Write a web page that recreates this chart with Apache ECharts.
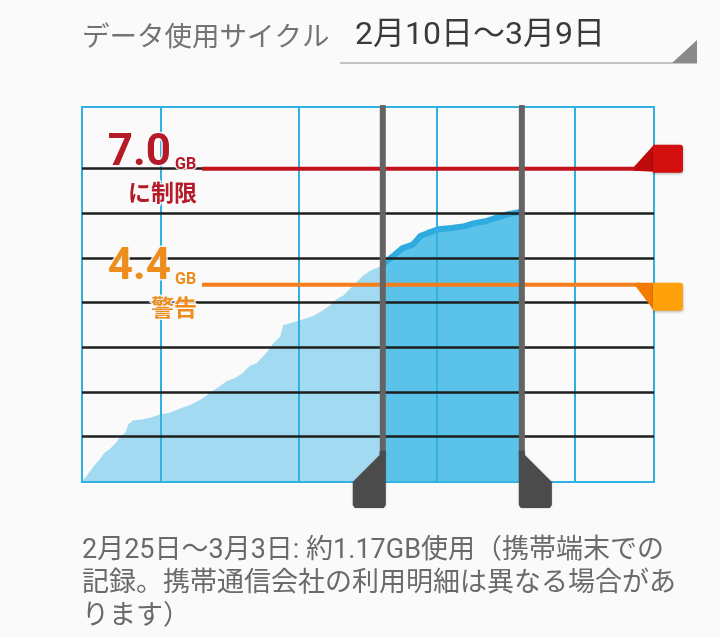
<!DOCTYPE html>
<html><head><meta charset="utf-8">
<script src="https://cdn.jsdelivr.net/npm/echarts@6/dist/echarts.min.js"></script>
<style>html,body{margin:0;padding:0;background:#fafafa;}#c{width:720px;height:637px;}</style>
</head><body><div id="c"></div>
<script>
// ---- data (days since 2月10日 00:00, cumulative GB) ----
const usageDays = [0, 0.2, 0.55, 0.9, 1.15, 1.4, 1.75, 1.95, 2.2, 2.35,
  2.6, 3.05, 3.45, 3.95, 4.45, 4.95, 5.5, 6.0, 6.5, 7.0,
  7.35, 7.75, 8.15, 8.5, 8.85, 9.2, 9.45, 9.7, 10.05, 10.2,
  10.3, 10.9, 11.7, 12.2, 12.55, 12.95, 13.25, 13.75, 14.25, 14.6,
  15.1, 15.25, 15.45, 15.85, 16.25, 16.75, 16.95, 17.15, 17.55, 18.05,
  18.75, 19.4, 19.9, 20.45, 20.95, 21.6, 22.1, 22.3];
const usageGB = [0, 0.09, 0.31, 0.49, 0.64, 0.71, 0.87, 1.0, 1.09, 1.27,
  1.36, 1.38, 1.42, 1.49, 1.53, 1.62, 1.71, 1.82, 1.98, 2.13,
  2.24, 2.31, 2.42, 2.58, 2.64, 2.8, 2.93, 3.09, 3.24, 3.49,
  3.53, 3.58, 3.69, 3.82, 3.93, 4.09, 4.16, 4.38, 4.6, 4.71,
  4.8, 4.86, 4.93, 5.07, 5.22, 5.29, 5.38, 5.49, 5.56, 5.64,
  5.67, 5.71, 5.78, 5.82, 5.89, 5.98, 6.02, 6.04];
const cycleDays = 29;
const weekLineDays = [4, 11, 18, 25];
const gbLines = [1, 2, 3, 4, 5, 6, 7];
const limitGB = 7.0;
const warningGB = 4.4;
const rangeStartDay = 15.25;
const rangeEndDay = 22.3;
const headerLabel = 'データ使用サイクル';
const cycleLabel = '2月10日～3月9日';
const limitLabels = ['7.0', 'GB', 'に制限'];
const warningLabels = ['4.4', 'GB', '警告'];
const summaryLines = ['2月25日～3月3日: 約1.17GB使用（携帯端末での',
  '記録。携帯通信会社の利用明細は異なる場合があ', 'ります）'];

// ---- chart ----
const FONT = "Roboto, 'Noto Sans CJK JP', sans-serif";
const CJK = "'Noto Sans CJK JP', Roboto, sans-serif";
const chart = echarts.init(document.getElementById('c'), null, {renderer: 'canvas'});
const pts = usageDays.map((d, i) => [d, usageGB[i]]);
const lightPts = pts.filter(p => p[0] <= rangeStartDay);
const darkPts = pts.filter(p => p[0] >= rangeStartDay && p[0] <= rangeEndDay);

chart.setOption({
  backgroundColor: '#fafafa',
  animation: false,
  grid: {left: 82, right: 66, top: 107, bottom: 155, show: true,
    borderColor: '#2fb1e2', borderWidth: 2, backgroundColor: 'transparent'},
  xAxis: {type: 'value', min: 0, max: cycleDays, show: false},
  yAxis: {type: 'value', min: -0.022, max: 8.382, show: false},
  series: [
    {type: 'line', data: [], z: 1, silent: true,
      markLine: {silent: true, symbol: ['none', 'none'], animation: false,
        label: {show: false},
        emphasis: {disabled: true},
        data: [
          ...weekLineDays.map(d => ({xAxis: d, lineStyle: {color: '#2fb1e2', width: 2, type: 'solid'}})),
          ...gbLines.map(v => ({yAxis: v, lineStyle: {color: '#1e1e1e', width: 2.5, type: 'solid'}}))
        ]}},
    {type: 'line', data: lightPts, z: 2, symbol: 'none', silent: true,
      lineStyle: {width: 0},
      areaStyle: {color: 'rgba(51,181,229,0.44)', opacity: 1, origin: 'start'}},
    {type: 'line', data: darkPts, z: 3, symbol: 'none', silent: true,
      lineStyle: {width: 6, color: '#2eabe0'},
      areaStyle: {color: 'rgba(51,181,229,0.8)', opacity: 1, origin: 'start'}}
  ]
});

function px(x, y) { return chart.convertToPixel({gridIndex: 0}, [x, y]); }
function txt(text, x, y, font, fill, align, extra) {
  return {type: 'text', z: 50, silent: true, style: Object.assign({
    text: text, x: x, y: y, font: font, fill: fill,
    align: align, textAlign: align, verticalAlign: 'middle', textVerticalAlign: 'middle'
  }, extra || {})};
}
const g = [];
// header
g.push(txt(headerLabel, 82, 36, '27.5px ' + CJK, '#737373', 'left'));
g.push(txt(cycleLabel, 355, 36, '32px ' + FONT, '#3a3a3a', 'left'));
g.push({type: 'line', z: 50, shape: {x1: 340, y1: 63, x2: 697, y2: 63}, style: {stroke: '#c4c4c4', lineWidth: 2}});
g.push({type: 'polygon', z: 50, shape: {points: [[672, 63], [697, 63], [697, 40]]}, style: {fill: '#8a8a8a'}});

// limit and warning lines
const yL = px(0, limitGB)[1];
const yW = px(0, warningGB)[1];
g.push({type: 'line', z: 60, shape: {x1: 202, y1: yL, x2: 640, y2: yL}, style: {stroke: '#c2141c', lineWidth: 4}});
g.push({type: 'polygon', z: 61, shape: {points: [[634, yL + 2], [634, yL - 2], [654, yL - 24], [654, yL + 3]]}, style: {fill: '#c00b0d'}});
g.push({type: 'rect', z: 61, shape: {x: 653, y: yL - 24, width: 30, height: 28, r: [0, 3, 3, 0]}, style: {fill: '#d40f0f', shadowBlur: 3, shadowColor: 'rgba(0,0,0,0.3)', shadowOffsetY: 1}});
g.push({type: 'line', z: 60, shape: {x1: 202, y1: yW, x2: 640, y2: yW}, style: {stroke: '#f47d1c', lineWidth: 4}});
g.push({type: 'polygon', z: 61, shape: {points: [[636, yW - 2], [654, yW - 2], [654, yW + 26], [636, yW + 2]]}, style: {fill: '#f47b00'}});
g.push({type: 'rect', z: 61, shape: {x: 653, y: yW - 2, width: 30, height: 28, r: [0, 3, 3, 0]}, style: {fill: '#ffa10a', shadowBlur: 3, shadowColor: 'rgba(0,0,0,0.3)', shadowOffsetY: 1}});

const redT = '#b51a28', orT = '#ee8c1c';
const halo = {stroke: 'rgba(250,250,250,0.85)', lineWidth: 3};
g.push(txt(limitLabels[0], 171, yL - 15, 'bold 44px ' + FONT, redT, 'right', halo));
g.push(txt(limitLabels[1], 175, yL - 4, 'bold 16px ' + FONT, redT, 'left', halo));
g.push(txt(limitLabels[2], 197, yL + 24, 'bold 23px ' + CJK, redT, 'right', halo));
g.push(txt(warningLabels[0], 171, yW - 17, 'bold 44px ' + FONT, orT, 'right', halo));
g.push(txt(warningLabels[1], 175, yW - 5, 'bold 16px ' + FONT, orT, 'left', halo));
g.push(txt(warningLabels[2], 197, yW + 23, 'bold 23px ' + CJK, orT, 'right', halo));

// range sliders
const xs = px(rangeStartDay, 0)[0];
const xe = px(rangeEndDay, 0)[0];
[[xs, -1], [xe, 1]].forEach(([cx, dir]) => {
  g.push({type: 'rect', z: 70, shape: {x: cx - 3, y: 105, width: 6, height: 352, r: 1}, style: {fill: '#646464'}});
  g.push({type: 'polygon', z: 71, shape: {points: [
    [cx - 3 * dir, 451], [cx - 3 * dir, 505], [cx - 1 * dir, 508], [cx + 28 * dir, 508], [cx + 30 * dir, 505],
    [cx + 30 * dir, 482], [cx + 3 * dir, 455], [cx + 3 * dir, 451]]},
    style: {fill: '#4b4b4b', shadowBlur: 2, shadowColor: 'rgba(0,0,0,0.25)'}});
});

// summary text
summaryLines.forEach((s, i) => g.push(txt(s, 82, 551 + i * 33, '27px ' + FONT, '#6a6a6a', 'left')));

chart.setOption({graphic: {elements: g}});
</script>
</body></html>
